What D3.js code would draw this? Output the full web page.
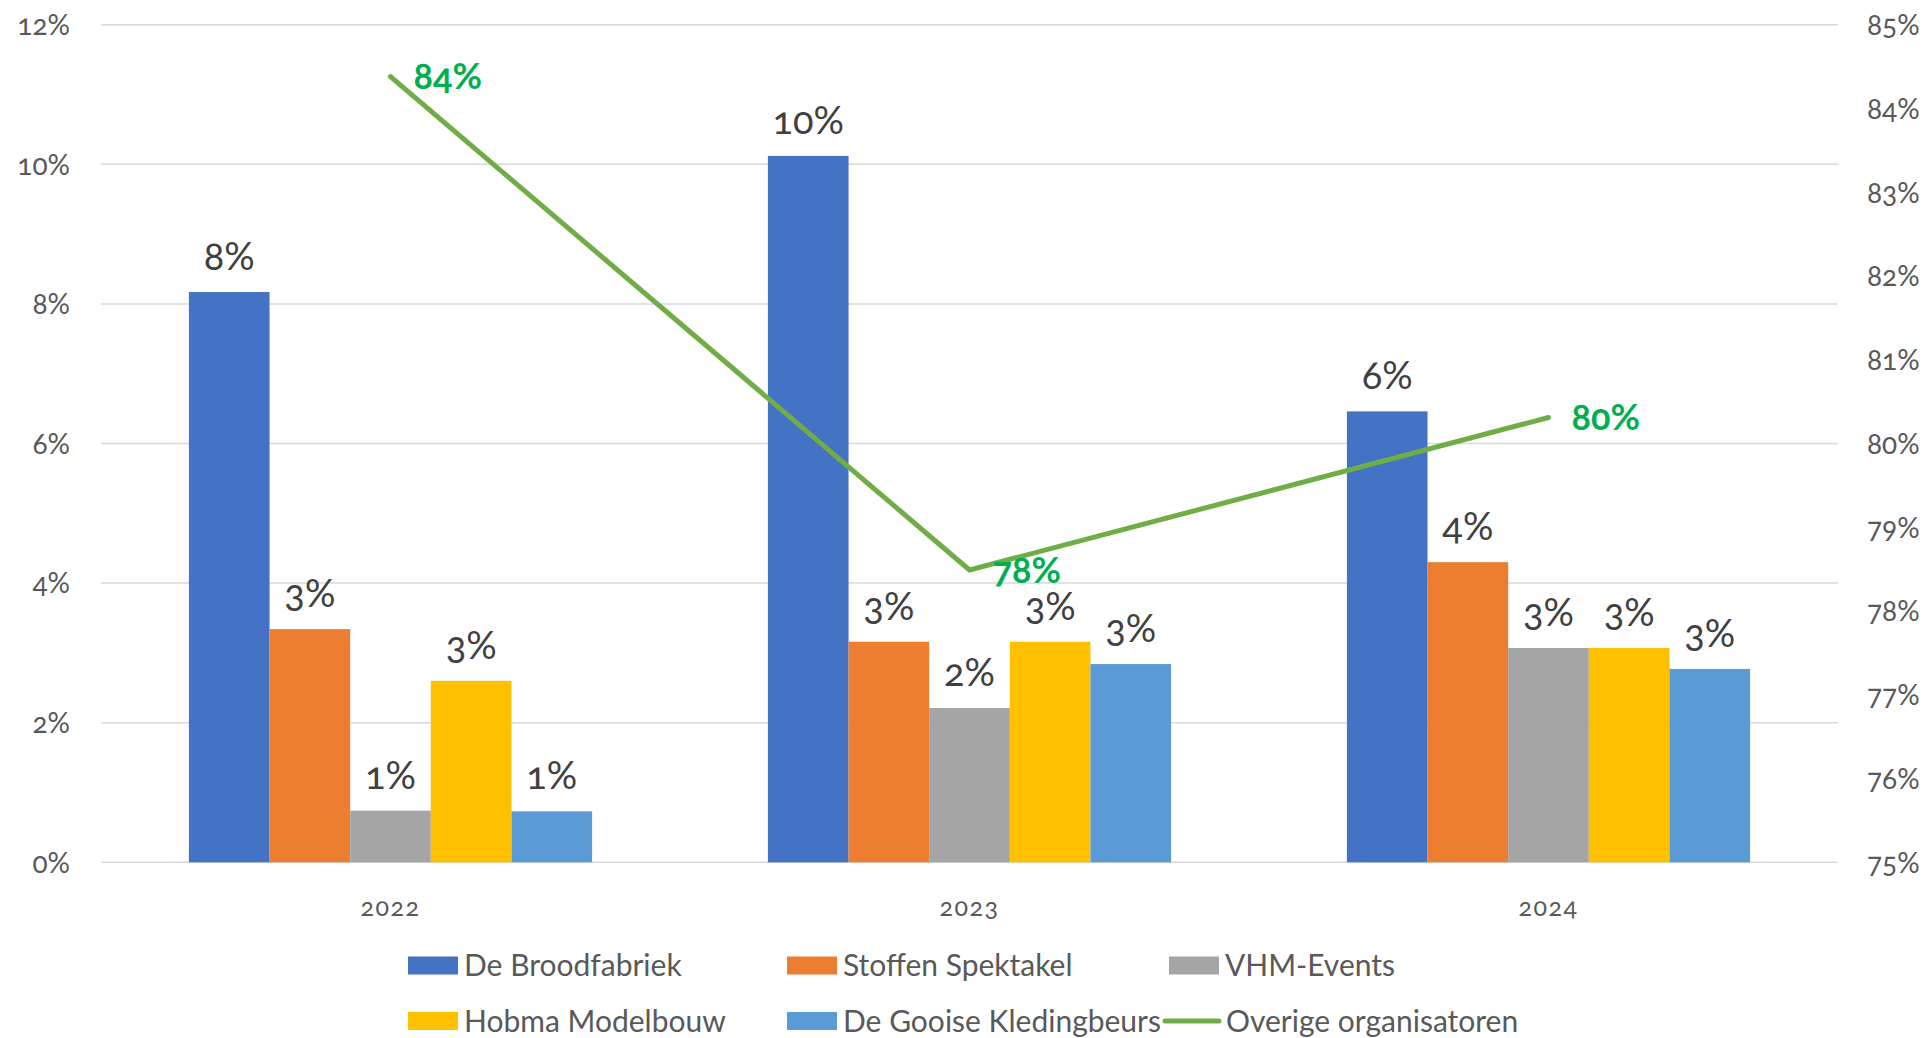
<!DOCTYPE html>
<html>
<head>
<meta charset="utf-8">
<script src="https://cdn.jsdelivr.net/npm/d3@7"></script>
<style>
  body { margin: 0; background: #fff; }
  svg text { font-family: Lato, "Open Sans", sans-serif; font-feature-settings: "onum"; }
</style>
</head>
<body>
<div id="chart"></div>
<script>
var svgWidth = 1931;
var svgHeight = 1038;

// data
var years = ["2022", "2023", "2024"];
var seriesNames = ["De Broodfabriek", "Stoffen Spektakel", "VHM-Events", "Hobma Modelbouw", "De Gooise Kledingbeurs"];
var broodfabriek = [8.17, 10.12, 6.46];
var stoffen = [3.34, 3.16, 4.30];
var vhm = [0.74, 2.21, 3.07];
var hobma = [2.60, 3.16, 3.07];
var gooise = [0.73, 2.84, 2.77];
var overige = [84.38, 78.49, 80.31];
var leftTicks = [0, 2, 4, 6, 8, 10, 12];
var rightTicks = [75, 76, 77, 78, 79, 80, 81, 82, 83, 84, 85];
var lineName = "Overige organisatoren";

var colors = ["#4472C4", "#ED7D31", "#A5A5A5", "#FFC000", "#5B9BD5"];
var lineColor = "#70AD47";

var allSeries = [broodfabriek, stoffen, vhm, hobma, gooise];

var svg = d3.select("#chart")
  .append("svg")
  .attr("width", svgWidth)
  .attr("height", svgHeight);

var plotLeft = 101, plotRight = 1838, plotTop = 24.7, plotBottom = 862.3;

var x0 = d3.scaleBand()
  .domain(years)
  .range([plotLeft, plotRight]);

var x1 = d3.scaleBand()
  .domain(seriesNames)
  .range([0, x0.bandwidth()])
  .paddingOuter(1.09);

var y = d3.scaleLinear()
  .domain([0, 12])
  .range([plotBottom, plotTop]);

var yRight = d3.scaleLinear()
  .domain([75, 85])
  .range([plotBottom, plotTop]);

// gridlines
svg.append("g")
  .selectAll("line")
  .data(leftTicks)
  .enter()
  .append("line")
  .attr("x1", plotLeft)
  .attr("x2", plotRight)
  .attr("y1", d => y(d))
  .attr("y2", d => y(d))
  .attr("stroke", "#d9d9d9")
  .attr("stroke-width", 1.5);

// left axis
var leftAxis = d3.axisLeft(y).tickValues(leftTicks).tickSize(0).tickPadding(0).tickFormat(d => d + "%");
var gl = svg.append("g")
  .attr("transform", "translate(70,0)")
  .call(leftAxis);
gl.select(".domain").remove();
gl.selectAll("text").attr("font-size", 28).attr("fill", "#595959").attr("dy", "0.35em");

// right axis
var rightAxis = d3.axisRight(yRight).tickValues(rightTicks).tickSize(0).tickPadding(0).tickFormat(d => d + "%");
var gr = svg.append("g")
  .attr("transform", "translate(1867,0)")
  .call(rightAxis);
gr.select(".domain").remove();
gr.selectAll("text").attr("font-size", 28).attr("fill", "#595959").attr("dy", "0.35em");

// category labels
var bottomAxis = d3.axisBottom(x0).tickSize(0).tickPadding(0);
var gb = svg.append("g")
  .attr("transform", `translate(0, ${plotBottom + 45})`)
  .call(bottomAxis);
gb.select(".domain").remove();
gb.selectAll("text").attr("font-size", 25).attr("fill", "#595959").attr("letter-spacing", 1.5).attr("dy", "0.35em");

// bars
var groups = svg.append("g")
  .selectAll("g")
  .data(years)
  .enter()
  .append("g")
  .attr("transform", d => `translate(${x0(d)},0)`);

groups.selectAll("rect")
  .data((d, i) => seriesNames.map((s, j) => ({ name: s, value: allSeries[j][i], idx: j })))
  .enter()
  .append("rect")
  .attr("x", d => x1(d.name))
  .attr("width", x1.bandwidth())
  .attr("y", d => y(d.value))
  .attr("height", d => y(0) - y(d.value))
  .attr("fill", d => colors[d.idx]);

groups.selectAll("text")
  .data((d, i) => seriesNames.map((s, j) => ({ name: s, value: allSeries[j][i], idx: j })))
  .enter()
  .append("text")
  .attr("x", d => x1(d.name) + x1.bandwidth() / 2)
  .attr("y", d => y(d.value) - 22)
  .attr("text-anchor", "middle")
  .attr("font-size", 38)
  .attr("fill", "#404040")
  .text(d => Math.round(d.value) + "%");

// line
var lineData = years.map((yr, i) => ({ year: yr, value: overige[i] }));
var line = d3.line()
  .x(d => x0(d.year) + x0.bandwidth() / 2)
  .y(d => yRight(d.value));

svg.append("path")
  .datum(lineData)
  .attr("d", line)
  .attr("fill", "none")
  .attr("stroke", lineColor)
  .attr("stroke-width", 5)
  .attr("stroke-linecap", "round")
  .attr("stroke-linejoin", "round");

svg.append("g")
  .selectAll("text")
  .data(lineData)
  .enter()
  .append("text")
  .attr("x", d => x0(d.year) + x0.bandwidth() / 2 + 23)
  .attr("y", d => yRight(d.value))
  .attr("dy", "0.35em")
  .attr("font-size", 36)
  .attr("font-weight", "bold")
  .attr("fill", "#00B050")
  .text(d => Math.round(d.value) + "%");

// legend
var legendItems = [
  { name: seriesNames[0], color: colors[0], x: 408, y: 965.5, type: "rect" },
  { name: seriesNames[1], color: colors[1], x: 787, y: 965.5, type: "rect" },
  { name: seriesNames[2], color: colors[2], x: 1169, y: 965.5, type: "rect" },
  { name: seriesNames[3], color: colors[3], x: 408, y: 1021, type: "rect" },
  { name: seriesNames[4], color: colors[4], x: 787, y: 1021, type: "rect" },
  { name: lineName, color: lineColor, x: 1163, y: 1021, type: "line" }
];

var legend = svg.append("g")
  .selectAll("g")
  .data(legendItems)
  .enter()
  .append("g")
  .attr("transform", d => `translate(${d.x},${d.y})`);

legend.filter(d => d.type === "rect")
  .append("rect")
  .attr("x", 0)
  .attr("y", -9)
  .attr("width", 50)
  .attr("height", 18)
  .attr("fill", d => d.color);

legend.filter(d => d.type === "line")
  .append("line")
  .attr("x1", 2)
  .attr("x2", 56)
  .attr("y1", 0)
  .attr("y2", 0)
  .attr("stroke", d => d.color)
  .attr("stroke-width", 5)
  .attr("stroke-linecap", "round");

legend.append("text")
  .attr("x", d => d.type === "line" ? 63 : 56)
  .attr("y", 0)
  .attr("dy", "0.35em")
  .attr("font-size", 30)
  .attr("fill", "#595959")
  .text(d => d.name);
</script>
</body>
</html>
